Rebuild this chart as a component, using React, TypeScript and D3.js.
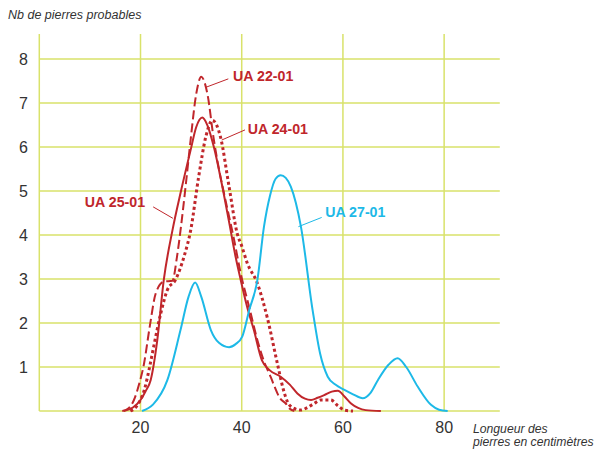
import React from "react";
import * as d3 from "d3";

type Pt = [number, number];

const xTicks = [20, 40, 60, 80];
const yTicks = [1, 2, 3, 4, 5, 6, 7, 8];

const ua2701: Pt[] = [
  [20.3, 0], [22.5, 0.15], [25.3, 0.7], [27.9, 1.84], [29.5, 2.6], [30.8, 2.92], [32, 2.6],
  [33.9, 1.84], [35.5, 1.55], [37.5, 1.45], [38.8, 1.52], [40.1, 1.69], [41.5, 2.3], [43.1, 2.98],
  [44.4, 4.19], [45.6, 4.9], [46.7, 5.28], [47.7, 5.36], [48.7, 5.3], [49.7, 5.1], [51.7, 4.19],
  [54, 2.3], [55.5, 1.3], [57, 0.78], [58.5, 0.6], [60.3, 0.48], [62, 0.38], [63.9, 0.29],
  [65.5, 0.42], [66.9, 0.7], [69, 1.05], [70.8, 1.2], [72.5, 1.0], [74.8, 0.55], [77.4, 0.14],
  [79, 0.03], [80.7, 0],
];

const ua2501: Pt[] = [
  [16.7, 0], [18.5, 0.08], [20, 0.25], [21, 0.45], [22, 0.7], [23.3, 1.6], [24.6, 2.98],
  [26.3, 4.1], [28, 5.0], [29.9, 5.93], [31, 6.45], [32.2, 6.67], [33.2, 6.5], [34.5, 6.0],
  [36, 5.2], [37.5, 4.3], [38.8, 3.5], [39.8, 2.98], [41, 2.4], [42.4, 1.84], [44, 1.15],
  [45.5, 0.93], [47.7, 0.78], [49.5, 0.6], [51, 0.4], [52.5, 0.28], [53.7, 0.25], [55, 0.3],
  [56.3, 0.36], [57.8, 0.44], [59, 0.46], [60.3, 0.33], [61.6, 0.17], [63, 0.07], [64.5, 0.02],
  [67.5, 0],
];

const ua2201: Pt[] = [
  [16.4, 0], [17.5, 0.05], [18.7, 0.25], [19.7, 0.6], [20.7, 1.08], [21.8, 1.9], [23, 2.67],
  [24.6, 2.94], [26.3, 2.96], [27.2, 3.5], [27.9, 4.1], [29, 5.2], [29.9, 6.16], [31, 7.2],
  [32, 7.6], [33.2, 7.22], [34.5, 6.16], [35.5, 5.5], [36.5, 4.95], [38.5, 3.89], [39.8, 3.13],
  [41.5, 2.35], [43.1, 1.61], [44.5, 1.1], [45.7, 0.78], [46.5, 0.55], [47.5, 0.3], [48.7, 0.17],
  [49.5, 0.05], [50.4, 0],
];

const ua2401: Pt[] = [
  [18, 0], [19.5, 0.15], [20.8, 0.5], [21.8, 1.0], [22.6, 1.46], [24, 2.22], [25.3, 2.75],
  [26.9, 2.98], [28.6, 3.51], [29.9, 4.1], [31.5, 5.33], [32.9, 6.23], [34.2, 6.61], [35.8, 6.23],
  [37.5, 5.1], [39.1, 4.04], [40, 3.75], [41.1, 3.36], [43.1, 2.9], [45.1, 2.1], [47.1, 1.05],
  [48.2, 0.5], [49, 0.22], [50, 0.08], [51.7, 0.02], [53, 0.08], [54.3, 0.17], [55.6, 0.25],
  [57.6, 0.25], [59, 0.12], [60.3, 0.02], [62, 0],
];

const seriesNames = ["UA 22-01", "UA 24-01", "UA 25-01", "UA 27-01"];
// label anchor [x, y] in data units, leader start and end in data units
const labelPos: Pt[] = [[38.3, 7.5], [41.2, 6.3], [9.0, 4.64], [56.5, 4.41]];
const leaderFrom: Pt[] = [[32.95, 7.36], [36.05, 6.16], [22.5, 4.64], [51.2, 4.19]];
const leaderTo: Pt[] = [[37.35, 7.55], [40.65, 6.39], [26.4, 4.38], [55.8, 4.4]];

const RED = "#c0262b";
const BLUE = "#1db9e7";
const GRID = "#d9e26a";
const TEXT = "#333333";

export default function App() {
  const x = d3.scaleLinear().domain([0, 91]).range([39.3, 499.8]);
  const y = d3.scaleLinear().domain([0, 8.57]).range([411, 34]);
  const line = d3
    .line<Pt>()
    .x((d) => x(d[0]))
    .y((d) => y(d[1]))
    .curve(d3.curveMonotoneX);

  const series = [
    { data: ua2201, color: RED, dash: "9 4", width: 2 },
    { data: ua2401, color: RED, dash: "3 2.8", width: 3 },
    { data: ua2501, color: RED, dash: null, width: 2 },
    { data: ua2701, color: BLUE, dash: null, width: 2 },
  ];

  const font = "'Liberation Sans', Arial, sans-serif";

  return (
    <svg
      width={598}
      height={450}
      style={{ position: "fixed", left: 0, top: 0, background: "#fff" }}
      fontFamily={font}
    >
      {[0, ...yTicks].map((t) => (
        <line key={"h" + t} x1={x(0)} x2={x(91)} y1={y(t)} y2={y(t)} stroke={GRID} strokeWidth={1.5} />
      ))}
      {[0, ...xTicks].map((t) => (
        <line key={"v" + t} x1={x(t)} x2={x(t)} y1={y(0)} y2={y(8.57)} stroke={GRID} strokeWidth={1.5} />
      ))}
      {yTicks.map((t) => (
        <text key={"yl" + t} x={28} y={y(t) + 6} textAnchor="end" fontSize={16} fill={TEXT}>
          {t}
        </text>
      ))}
      {xTicks.map((t) => (
        <text key={"xl" + t} x={x(t)} y={433} textAnchor="middle" fontSize={16} fill={TEXT}>
          {t}
        </text>
      ))}
      <text x={8} y={19} fontSize={12.5} fontStyle="italic" fill={TEXT}>
        Nb de pierres probables
      </text>
      <text x={473} y={432.5} fontSize={12.2} fontStyle="italic" fill={TEXT}>
        Longueur des
      </text>
      <text x={473} y={446} fontSize={12.2} fontStyle="italic" fill={TEXT}>
        pierres en centimètres
      </text>
      {series.map((s, i) => (
        <path
          key={"s" + i}
          d={line(s.data) || ""}
          fill="none"
          stroke={s.color}
          strokeWidth={s.width}
          strokeDasharray={s.dash || undefined}
        />
      ))}
      {seriesNames.map((n, i) => {
        const c = i === 3 ? BLUE : RED;
        return (
          <g key={"lab" + i}>
            <line
              x1={x(leaderFrom[i][0])}
              y1={y(leaderFrom[i][1])}
              x2={x(leaderTo[i][0])}
              y2={y(leaderTo[i][1])}
              stroke={c}
              strokeWidth={1}
            />
            <text x={x(labelPos[i][0])} y={y(labelPos[i][1])} fontSize={14.2} fontWeight="bold" fill={c}>
              {n}
            </text>
          </g>
        );
      })}
    </svg>
  );
}
